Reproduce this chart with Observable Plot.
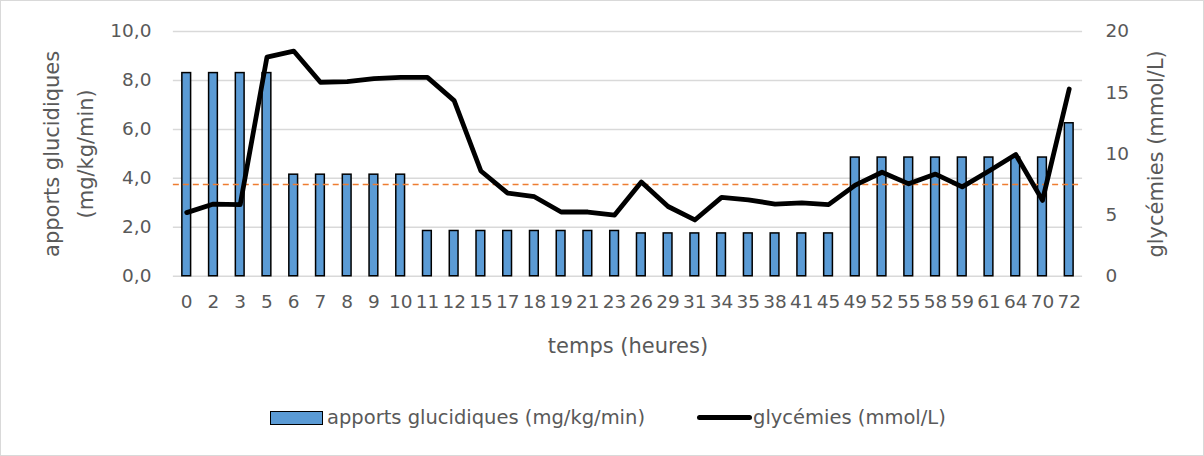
<!DOCTYPE html>
<html>
<head>
<meta charset="utf-8">
<script src="https://cdn.jsdelivr.net/npm/d3@7"></script>
<script src="https://cdn.jsdelivr.net/npm/@observablehq/plot@0.6"></script>
<style>
  html, body { margin: 0; padding: 0; background: #fff; }
  #wrap { position: relative; width: 1202px; height: 454px; border: 1px solid #d9d9d9; box-sizing: content-box; overflow: hidden; }
  #chart { position: absolute; left: -1px; top: -1px; }
  .legend { position: absolute; top: 405px; font-family: "DejaVu Sans", sans-serif; font-size: 19.5px; color: #595959; display: flex; align-items: center; white-space: nowrap; }
  .sw-bar { width: 51px; height: 12px; background: #5B9BD5; border: 1.5px solid #000; margin-right: 4px; }
  .sw-line { width: 55px; height: 5px; background: #000; border-radius: 2.5px; margin-right: 1px; }
</style>
</head>
<body>
<div id="wrap">
  <div id="chart"></div>
  <div class="legend" style="left:269px"><div class="sw-bar"></div><span>apports glucidiques (mg/kg/min)</span></div>
  <div class="legend" style="left:696px"><div class="sw-line"></div><span>glycémies (mmol/L)</span></div>
</div>
<script>
// temps (heures)
const hours = ["0","2","3","5","6","7","8","9","10","11","12","15","17","18","19","21","23","26","29","31","34","35","38","41","45","49","52","55","58","59","61","64","70","72"];
// apports glucidiques (mg/kg/min) – left axis
const apports = [8.3,8.3,8.3,8.3,4.15,4.15,4.15,4.15,4.15,1.85,1.85,1.85,1.85,1.85,1.85,1.85,1.85,1.75,1.75,1.75,1.75,1.75,1.75,1.75,1.75,4.85,4.85,4.85,4.85,4.85,4.85,4.85,4.85,6.25];
// glycémies (mmol/L) – right axis
const glycemies = [5.2,5.9,5.85,17.9,18.4,15.85,15.9,16.15,16.25,16.25,14.35,8.6,6.8,6.5,5.25,5.25,5.0,7.7,5.7,4.6,6.45,6.25,5.9,6.0,5.85,7.45,8.5,7.55,8.35,7.3,8.6,9.95,6.2,15.3];
// seuil (mmol/L), dashed reference line
const seuil = [7.5];
const leftTicks = [0,2,4,6,8,10];
const rightTicks = [0,5,10,15,20];
const ratio = 2; // right axis max (20) / left axis max (10)

const rows = hours.map((h, i) => ({h, a: apports[i], g: glycemies[i]}));
const font = "'DejaVu Sans', sans-serif";
const grey = "#595959";

const chart = Plot.plot({
  width: 1204,
  height: 390,
  marginLeft: 173,
  marginRight: 121,
  marginTop: 31,
  marginBottom: 114,
  style: {fontFamily: font, fontSize: "18.5px", color: grey, background: "transparent", overflow: "visible"},
  x: {type: "band", domain: hours, padding: 0, round: false},
  y: {domain: [0, 10]},
  marks: [
    Plot.gridY(leftTicks, {stroke: "#d9d9d9", strokeOpacity: 1, strokeWidth: 1.5}),
    Plot.barY(rows, {x: "h", y: "a", fill: "#5B9BD5", stroke: "#000", strokeWidth: 1.5, insetLeft: 9, insetRight: 9}),
    Plot.ruleY(seuil, {y: d => d / ratio, stroke: "#ED7D31", strokeWidth: 1.5, strokeDasharray: "6,4"}),
    Plot.line(rows, {x: "h", y: d => d.g / ratio, stroke: "#000", strokeWidth: 4.8, strokeLinejoin: "round", strokeLinecap: "round"}),
    Plot.axisX({tickSize: 0, tickPadding: 19, label: null, fill: grey, fontSize: 18.5}),
    Plot.axisY(leftTicks, {anchor: "left", tickSize: 0, tickPadding: 22, label: null, tickFormat: d => d.toFixed(1).replace(".", ","), fill: grey, fontSize: 18.5}),
    Plot.axisY(rightTicks.map(d => d / ratio), {anchor: "right", tickSize: 0, tickPadding: 23, label: null, tickFormat: d => String(d * ratio), fill: grey, fontSize: 18.5}),
    Plot.text(["temps (heures)"], {frameAnchor: "bottom", dy: 77, fill: grey, fontSize: 21}),
    Plot.text(["apports glucidiques"], {frameAnchor: "left", textAnchor: "middle", rotate: -90, dx: -121, fill: grey, fontSize: 21}),
    Plot.text(["(mg/kg/min)"], {frameAnchor: "left", textAnchor: "middle", rotate: -90, dx: -87, fill: grey, fontSize: 21}),
    Plot.text(["glycémies (mmol/L)"], {frameAnchor: "right", textAnchor: "middle", rotate: -90, dx: 74, fill: grey, fontSize: 21})
  ]
});
document.getElementById("chart").appendChild(chart);
</script>
</body>
</html>
